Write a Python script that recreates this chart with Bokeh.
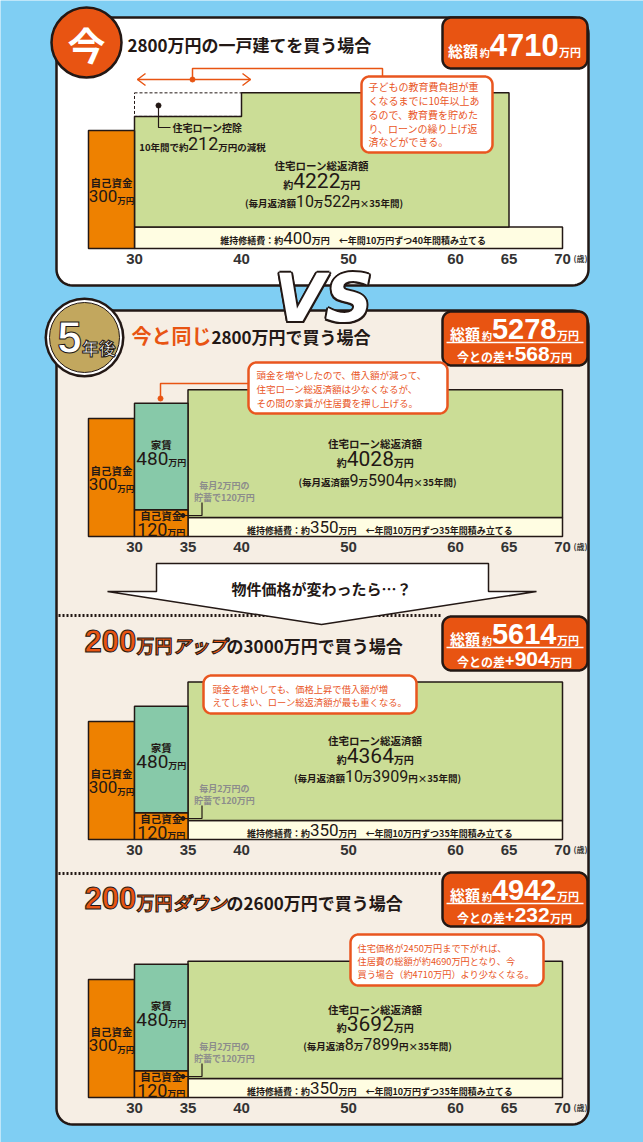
import math
from bokeh.plotting import figure
from bokeh.models import Range1d
from bokeh.core.properties import value
from bokeh.embed import file_html
from bokeh.resources import INLINE

# ---------------- data ----------------
prices = [2800, 2800, 3000, 2600]
totals = [4710, 5278, 5614, 4942]
diff_vs_now = [0, 568, 904, 232]
own_funds = [300, 300, 300, 300]
rent_total = [0, 480, 480, 480]
extra_own_funds = [0, 120, 120, 120]
loan_total = [4222, 4028, 4364, 3692]
monthly_man = [10, 9, 10, 8]
monthly_yen = [522, 5904, 3909, 7899]
loan_years = [35, 35, 35, 35]
purchase_age = [30, 35, 35, 35]
maint_total = [400, 350, 350, 350]
maint_years = [40, 35, 35, 35]
tax_cut_total = 212
tax_cut_years = 10
start_age = 30
age_ticks = [[30, 40, 50, 60, 65, 70], [30, 35, 40, 50, 60, 65, 70],
             [30, 35, 40, 50, 60, 65, 70], [30, 35, 40, 50, 60, 65, 70]]
monthly_prefix = ["毎月返済額", "毎月返済額", "毎月返済額", "毎月返済"]
callout_lines = [
    ["子どもの教育費負担が重", "くなるまでに10年以上あ", "るので、教育費を貯めた", "り、ローンの繰り上げ返", "済などができる。"],
    ["頭金を増やしたので、借入額が減って、", "住宅ローン総返済額は少なくなるが、", "その間の家賃が住居費を押し上げる。"],
    ["頭金を増やしても、価格上昇で借入額が増", "えてしまい、ローン総返済額が最も重くなる。"],
    ["住宅価格が2450万円まで下がれば、", "住居費の総額が約4690万円となり、今", "買う場合（約4710万円）より少なくなる。"],
]

# ---------------- style / layout ----------------
JP = "Noto Sans CJK JP"
LAT = "Liberation Sans"
DARK = "#231815"
BG = "#7FCEF3"
BEIGE = "#F6EEE4"
RED = "#E85412"
ORANGE = "#EE8100"
GREEN = "#CBDD96"
TEAL = "#87C9A9"
CREAM = "#FFFDE2"
GOLD = "#C2A75E"
CALL = "#E9561F"
GRAY = "#8C8C8C"
NUM = {"font": "Roboto", "style": "normal"}

W, H = 643, 1142
PX_PER_YEAR = 10.7
AGE0 = 30 - 134 / PX_PER_YEAR
ANNUAL_PER_PX = 0.9      # 万円/年 per pixel
OWN_PER_PX = 2.54        # 万円 per pixel for lump-sum bar
MAINT_PER_PX = 18.5
LEAD_YEARS = 4.3
BASES = [248, 536, 839, 1097]


def a2p(age):
    return (age - AGE0) * PX_PER_YEAR


p = figure(width=W, height=H, x_range=Range1d(0, W), y_range=Range1d(H, 0),
           output_backend="svg", toolbar_location=None, min_border=0)
p.extra_x_ranges = {"age": Range1d(AGE0, AGE0 + W / PX_PER_YEAR)}
p.axis.visible = False
p.xgrid.visible = False
p.ygrid.visible = False
p.outline_line_color = None
p.background_fill_color = BG
p.border_fill_color = BG


def rr(x0, y0, x1, y1, r, n=10):
    xs, ys = [], []
    for cx, cy, a0 in [(x1 - r, y0 + r, -90), (x1 - r, y1 - r, 0), (x0 + r, y1 - r, 90), (x0 + r, y0 + r, 180)]:
        for k in range(n + 1):
            a = math.radians(a0 + 90 * k / n)
            xs.append(cx + r * math.cos(a))
            ys.append(cy + r * math.sin(a))
    return xs, ys


def rbox(x0, y0, x1, y1, r, fill, line, lw):
    xs, ys = rr(x0, y0, x1, y1, r)
    p.patch(xs, ys, fill_color=fill, line_color=line, line_width=lw)


def txt(x, y, s, size, color=DARK, font=JP, style="bold", align="left", baseline="middle", outline=None):
    extra = {}
    if outline:
        extra["text_outline_color"] = outline
    p.text(x=[x], y=[y], text=[s], text_font=value(font), text_font_size=f"{size}px",
           text_font_style=style, text_color=color, text_align=align, text_baseline=baseline, **extra)


def cw(ch, size):
    if ch.isdigit():
        return 0.56 * size
    if ch in "()":
        return 0.36 * size
    if ch == "+":
        return 0.6 * size
    if ch == "×":
        return 0.6 * size
    if ch == " ":
        return 0.3 * size
    if ord(ch) < 0x2000:
        return 0.56 * size
    return 1.0 * size


def runs(parts, x, yc, align="center", color=DARK, font=JP, style="bold", outline=None):
    items = [(pt[0], pt[1], pt[2] if len(pt) > 2 else {}) for pt in parts]
    ws = [sum(cw(c, sz) for c in s) for s, sz, _ in items]
    total = sum(ws)
    x0 = x - total / 2 if align == "center" else (x if align == "left" else x - total)
    base = yc + 0.37 * max(sz for _, sz, _ in items)
    for (s, sz, o), w in zip(items, ws):
        txt(x0, base - 0.37 * sz, s, sz, color=o.get("color", color), font=o.get("font", font),
            style=o.get("style", style), baseline="middle", outline=o.get("outline", outline))
        x0 += w


# ---------------- panels ----------------
rbox(56, 17, 588, 285, 16, "white", DARK, 2.5)
rbox(56, 310, 588, 1124, 16, BEIGE, DARK, 2.5)

# dotted separators
for ysep in [615, 873]:
    p.line([58, 441], [ysep, ysep], line_color=DARK, line_width=3, line_dash="2 2")

# badge 今
p.circle(x=[86], y=[42], radius=35, fill_color=RED, line_color=DARK, line_width=2.5)
txt(86, 43, "今", 38, color="white", align="center")
txt(127, 44, f"{prices[0]}万円の一戸建てを買う場合", 17)

# badge 5年後
p.circle(x=[84], y=[337], radius=40, fill_color=DARK, line_color=None)
p.circle(x=[84], y=[337], radius=37.5, fill_color="white", line_color=None)
p.circle(x=[84], y=[337], radius=35, fill_color=GOLD, line_color=DARK, line_width=1)
runs([("5", 44, {"font": LAT}), ("年後", 17)], 86, 337, color="white", outline=DARK)

# titles
runs([("今と同じ", 20, {"color": RED}), (f"{prices[1]}万円で買う場合", 17)], 131, 335, align="left")
runs([("200", 31, {"font": LAT, "color": RED, "outline": DARK}),
      ("万円", 18, {"color": RED, "outline": DARK}),
      ("アップ", 18, {"color": RED, "outline": DARK, "style": "bold italic"}),
      (f"の{prices[2]}万円で買う場合", 17)], 84, 640, align="left")
runs([("200", 31, {"font": LAT, "color": RED, "outline": DARK}),
      ("万円", 18, {"color": RED, "outline": DARK}),
      ("ダウン", 18, {"color": RED, "outline": DARK, "style": "bold italic"}),
      (f"の{prices[3]}万円で買う場合", 17)], 84, 897, align="left")

# total boxes
rbox(442, 17, 587, 68, 9, RED, DARK, 2.5)
runs([("総額", 15), (" ", 6), ("約", 10), (str(totals[0]), 31, {"font": LAT}), ("万円", 11)],
     514, 44, color="white")
for i, top in zip([1, 2, 3], [311, 616, 872]):
    rbox(442, top, 587, top + 54, 9, RED, DARK, 2.5)
    runs([("総額", 15), (" ", 6), ("約", 10), (str(totals[i]), 29, {"font": LAT}), ("万円", 11)],
         514, top + 17, color="white")
    p.line([446, 583], [top + 31, top + 31], line_color="white", line_width=1.5)
    runs([("今との差", 12), ("+", 16, {"font": LAT}), (str(diff_vs_now[i]), 21, {"font": LAT}), ("万円", 11)],
         514, top + 42, color="white")

# ---------------- bars ----------------
label_y = [(165, 180, 200), (443, 458, 479), (740, 755, 775), (1009, 1023, 1043)]
for i, base in enumerate(BASES):
    a_buy = purchase_age[i]
    m_h = maint_total[i] / MAINT_PER_PX
    loan_h = loan_total[i] / loan_years[i] / ANNUAL_PER_PX
    loan_bot = base - m_h
    loan_top = loan_bot - loan_h
    # maintenance
    p.quad(left=[a_buy], right=[a_buy + maint_years[i]], bottom=[base], top=[loan_bot],
           x_range_name="age", fill_color=CREAM, line_color=DARK, line_width=1.5)
    # loan
    if i == 0:
        ded_h = tax_cut_total / tax_cut_years / ANNUAL_PER_PX
        xs = [a_buy, a_buy, a_buy + tax_cut_years, a_buy + tax_cut_years, a_buy + loan_years[i], a_buy + loan_years[i]]
        ys = [loan_bot, loan_top + ded_h, loan_top + ded_h, loan_top, loan_top, loan_bot]
        p.patch(xs, ys, x_range_name="age", fill_color=GREEN, line_color=DARK, line_width=1.5)
        p.quad(left=[a_buy], right=[a_buy + tax_cut_years], bottom=[loan_top + ded_h], top=[loan_top],
               x_range_name="age", fill_color=None, line_color=DARK, line_width=1, line_dash="3 2")
    else:
        p.quad(left=[a_buy], right=[a_buy + loan_years[i]], bottom=[loan_bot], top=[loan_top],
               x_range_name="age", fill_color=GREEN, line_color=DARK, line_width=1.5)
    # own funds lump sum
    own_top = base - own_funds[i] / OWN_PER_PX
    p.quad(left=[start_age - LEAD_YEARS], right=[start_age], bottom=[base], top=[own_top],
           x_range_name="age", fill_color=ORANGE, line_color=DARK, line_width=1.5)
    cx_own = a2p(start_age - LEAD_YEARS / 2)
    cy_own = (base + own_top) / 2
    txt(cx_own, cy_own - 7, "自己資金", 10.5, align="center")
    runs([(str(own_funds[i]), 17, NUM), ("万円", 8.5)], cx_own, cy_own + 7)

    # rent + extra own funds
    if rent_total[i] > 0:
        yrs = a_buy - start_age
        ex_top = base - extra_own_funds[i] / yrs / ANNUAL_PER_PX
        rent_top = ex_top - rent_total[i] / yrs / ANNUAL_PER_PX
        p.quad(left=[start_age], right=[a_buy], bottom=[base], top=[ex_top],
               x_range_name="age", fill_color=ORANGE, line_color=DARK, line_width=1.5)
        p.quad(left=[start_age], right=[a_buy], bottom=[ex_top], top=[rent_top],
               x_range_name="age", fill_color=TEAL, line_color=DARK, line_width=1.5)
        cxr = a2p((start_age + a_buy) / 2)
        cyr = (ex_top + rent_top) / 2
        txt(cxr, cyr - 12, "家賃", 10.5, align="center")
        runs([(str(rent_total[i]), 19, NUM), ("万円", 9)], cxr, cyr + 2)
        txt(cxr, base - 21, "自己資金", 10.5, align="center")
        runs([(str(extra_own_funds[i]), 18, NUM), ("万円", 9)], cxr, base - 7)
        # saving note
        gx = a2p(38.4)
        txt(gx, base - 51, "毎月2万円の", 9, color=GRAY, align="center")
        txt(gx, base - 39, f"貯蓄で{extra_own_funds[i]}万円", 9, color=GRAY, align="center")
        xd = a2p(a_buy) - 5
        p.line([xd, xd + 19, xd + 19], [base - 21, base - 21, base - 34], line_color=DARK, line_width=1.2)
        p.scatter(x=[xd], y=[base - 21], size=4, color=DARK)

    # loan labels
    lx = a2p(a_buy + loan_years[i] / 2)
    y1, y2, y3 = label_y[i]
    txt(lx, y1, "住宅ローン総返済額", 10.5, align="center")
    runs([("約", 10), (str(loan_total[i]), 21, NUM), ("万円", 10)], lx, y2)
    runs([(f"({monthly_prefix[i]}", 9.5), (str(monthly_man[i]), 16, NUM), ("万", 9.5),
          (str(monthly_yen[i]), 16, NUM), (f"円×{loan_years[i]}年間)", 9.5)], lx, y3)
    # maintenance label
    mx = a2p(a_buy + maint_years[i] / 2)
    runs([("維持修繕費：約", 9), (str(maint_total[i]), 17, NUM),
          (f"万円　←年間10万円ずつ{maint_years[i]}年間積み立てる", 9)], mx + 4, base - m_h / 2)

    # age ticks
    ty = base + 10
    tk = age_ticks[i]
    p.text(x=tk, y=[ty] * len(tk), text=[str(t) for t in tk], x_range_name="age",
           text_font=value(LAT), text_font_size="15px", text_font_style="bold",
           text_color="#333333", text_align="center", text_baseline="middle")
    txt(a2p(70) + 11, ty, "(歳)", 8, color="#333333")

# tax deduction annotation (panel 1)
p.scatter(x=[158], y=[105], size=5, color=DARK)
p.line([158, 158, 170], [105, 127, 127], line_color=DARK, line_width=1.2)
txt(172, 127, "住宅ローン控除", 10)
runs([(f"{tax_cut_years}年間で約", 9.5), (str(tax_cut_total), 18, NUM), ("万円の減税", 9.5)], 202, 143)

# arrow + bracket (panel 1)
ax0, ax1 = a2p(start_age) + 3, a2p(start_age + tax_cut_years) + 9
p.line([ax0, ax1], [79, 79], line_color=RED, line_width=1.5)
p.line([ax0 + 8, ax0, ax0 + 8], [73, 79, 85], line_color=RED, line_width=1.5)
p.line([ax1 - 8, ax1, ax1 - 8], [73, 79, 85], line_color=RED, line_width=1.5)
p.line([192, 192, 382, 382], [79, 68, 68, 77], line_color=RED, line_width=1.5)
p.scatter(x=[192], y=[79], size=5, color=RED)

# bracket (panel 2)
p.line([160, 160, 248], [398, 383, 383], line_color=RED, line_width=1.5)
p.scatter(x=[160], y=[398], size=5, color=RED)

# callouts
boxes = [(361, 76, 492, 152), (248, 362, 447, 413), (203, 675, 416, 713), (350, 934, 543, 985)]
line_ys = [[86, 100, 114, 128, 141], [374, 388, 402], [688, 701], [947, 960, 973]]
text_x = [368, 256, 212, 357]
sizes = [10, 9.5, 9.3, 9.2]
for b, lines, ys, tx, sz in zip(boxes, callout_lines, line_ys, text_x, sizes):
    rbox(b[0], b[1], b[2], b[3], 8, "white", CALL, 2.5)
    for s, yy in zip(lines, ys):
        txt(tx, yy, s, sz, color=CALL, style="normal")

# banner arrow
bx = [156, 488, 488, 536, 321, 107, 156]
by = [563, 563, 591, 591, 624, 591, 591]
p.patch(bx, by, fill_color="white", line_color=DARK, line_width=1.5)
txt(321, 588, "物件価格が変わったら…？", 15, align="center")

# VS (dark rim + white letters)
rim = [(-2, 0), (2, 0), (0, -2), (0, 2), (-1.5, -1.5), (1.5, 1.5), (-1.5, 1.5), (1.5, -1.5)]
p.text(x=[323 + dx for dx, dy in rim], y=[298 + dy for dx, dy in rim], text=["VS"] * len(rim),
       text_font=value("DejaVu Sans"), text_font_size="66px", text_font_style="bold italic",
       text_color=DARK, text_align="center", text_baseline="middle")
txt(323, 298, "VS", 66, color="white", font="DejaVu Sans", style="bold italic", align="center")

open("out.html", "w").write(file_html(p, INLINE))
